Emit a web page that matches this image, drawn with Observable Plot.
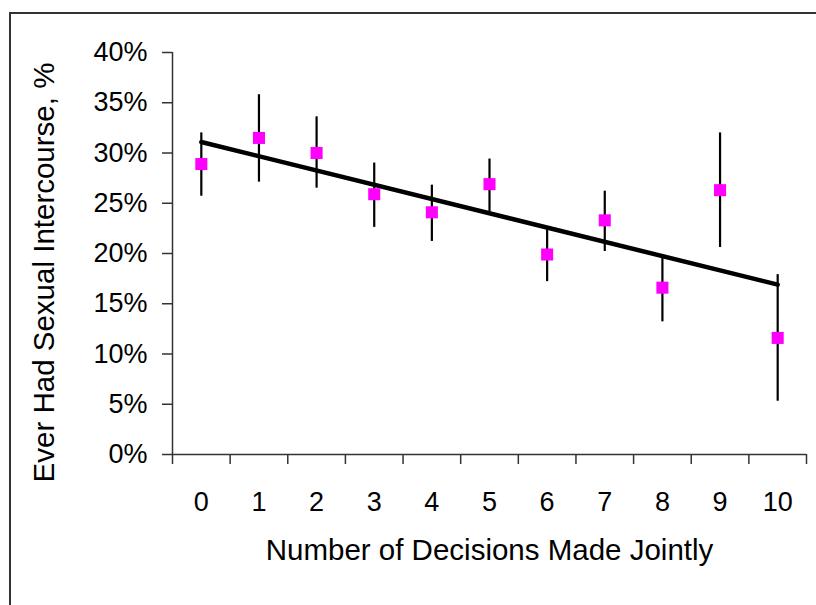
<!DOCTYPE html>
<html>
<head>
<meta charset="utf-8">
<script src="https://cdn.jsdelivr.net/npm/d3@7"></script>
<script src="https://cdn.jsdelivr.net/npm/@observablehq/plot@0.6"></script>
<style>
  html, body { margin: 0; padding: 0; background: #fff; overflow: hidden; }
  #wrap { position: relative; width: 816px; height: 605px; }
  #frame { position: absolute; left: 9px; top: 12px; width: 900px; height: 700px;
           border-left: 2px solid #333; border-top: 2px solid #333; pointer-events: none; }
  #chart { position: absolute; left: 0; top: 0; }
</style>
</head>
<body>
<div id="wrap"><div id="chart"></div><div id="frame"></div></div>
<script>
// Number of decisions made jointly
const categories = [0, 1, 2, 3, 4, 5, 6, 7, 8, 9, 10];
// Ever had sexual intercourse, %
const rate  = [28.9, 31.5, 30.0, 25.9, 24.1, 26.9, 19.9, 23.3, 16.6, 26.3, 11.6];
const lower = [25.7, 27.1, 26.5, 22.6, 21.2, 24.1, 17.2, 20.2, 13.2, 20.6, 5.3];
const upper = [32.0, 35.8, 33.6, 29.0, 26.8, 29.4, 22.5, 26.2, 19.6, 32.0, 17.9];
// fitted linear trend
const trendX = [0, 10];
const trendY = [31.1, 16.9];
// axis ticks
const yTicks = [0, 5, 10, 15, 20, 25, 30, 35, 40];
const xBoundaries = [-0.5, 0.5, 1.5, 2.5, 3.5, 4.5, 5.5, 6.5, 7.5, 8.5, 9.5, 10.5];
const xTitle = "Number of Decisions Made Jointly";
const yTitle = "Ever Had Sexual Intercourse, %";

const data = categories.map((c, i) => ({x: c, y: rate[i], lo: lower[i], hi: upper[i]}));
const trend = trendX.map((x, i) => ({x, y: trendY[i]}));

const axisColor = "#333";
const font = "'Liberation Sans', Arial, sans-serif";

const chart = Plot.plot({
  width: 816,
  height: 605,
  marginLeft: 172,
  marginRight: 10,
  marginTop: 52,
  marginBottom: 151,
  style: {fontFamily: font, fontSize: "27px", background: "transparent", color: "#000", overflow: "visible"},
  x: {type: "linear", domain: [-0.5, 10.5]},
  y: {domain: [0, 40]},
  marks: [
    Plot.axisY({ticks: yTicks, tickFormat: d => d + "%", tickSize: 10, tickPadding: 15,
                stroke: axisColor, strokeWidth: 1.5, fill: "#000", fontSize: 27, label: null}),
    Plot.axisX({ticks: xBoundaries, tickFormat: () => "", tickSize: 10,
                stroke: axisColor, strokeWidth: 1.5, label: null}),
    Plot.axisX({ticks: categories, tickFormat: d => String(d), tickSize: 0, tickPadding: 37,
                fill: "#000", fontSize: 27, label: null}),
    Plot.ruleX([-0.5], {stroke: axisColor, strokeWidth: 1.5}),
    Plot.ruleY([0], {stroke: axisColor, strokeWidth: 1.5}),
    Plot.ruleX(data, {x: "x", y1: "lo", y2: "hi", stroke: "#000", strokeWidth: 2.2}),
    Plot.line(trend, {x: "x", y: "y", stroke: "#000", strokeWidth: 4.5}),
    Plot.dot(data, {x: "x", y: "y", symbol: "square", r: 6.8, fill: "#FF00FF", stroke: "none"}),
    Plot.text([xTitle], {frameAnchor: "bottom", textAnchor: "middle", lineAnchor: "middle", dy: 96,
                         text: d => d, fontSize: 29.5, fill: "#000"}),
    Plot.text([yTitle], {frameAnchor: "left", textAnchor: "middle", lineAnchor: "middle", rotate: -90,
                         dx: -128, dy: 19, text: d => d, fontSize: 29.5, fill: "#000"})
  ]
});
document.getElementById("chart").appendChild(chart);
</script>
</body>
</html>
